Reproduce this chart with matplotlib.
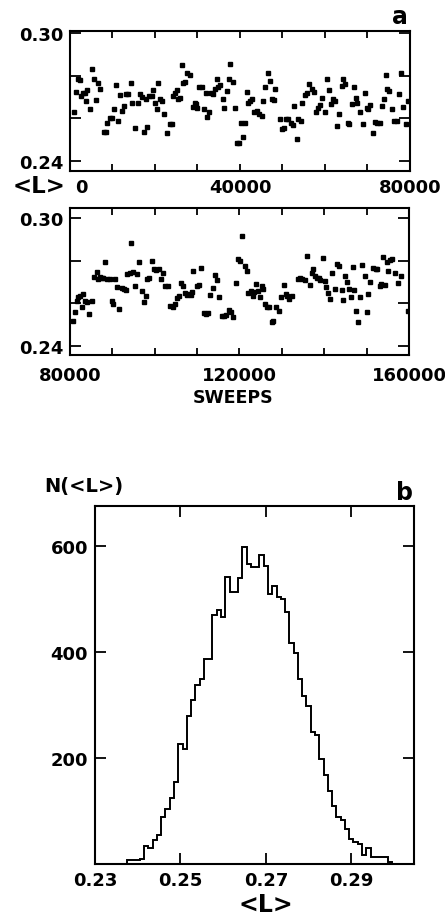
import numpy as np
import matplotlib
matplotlib.use("Agg")
import matplotlib.pyplot as plt
from matplotlib.transforms import ScaledTranslation

# panel a, top: sweeps 0 - 80000
sweeps_1 = [900, 1400, 2000, 2400, 2600, 3100, 3500, 3800, 4100, 4700, 5100, 5700, 6100, 6500, 7100,
            8100, 8500, 8800, 9400, 10000, 10400, 10800, 11400, 11800, 12300, 12700, 13200, 13700, 14300,
            14700, 15400, 15900, 16500, 16900, 17300, 17800, 18100, 18700, 19200, 19600, 20000, 20400,
            20700, 21200, 21700, 22200, 22900, 23500, 23900, 24200, 24600, 25100, 25500, 25900, 26300,
            26700, 27100, 27600, 28200, 28900, 29300, 29600, 30000, 30400, 31000, 31500, 32000, 32300,
            32800, 33100, 33700, 34100, 34500, 34900, 35300, 35900, 36200, 36900, 37300, 37600, 38300,
            38800, 39200, 39800, 40200, 40600, 41200, 41600, 42000, 42400, 42900, 43400, 43900, 44500,
            45100, 45500, 46000, 46500, 47100, 47500, 48000, 48300, 49300, 49800, 50400, 50800, 51400,
            51900, 52400, 52700, 53300, 53700, 54300, 54700, 55300, 55700, 56300, 56900, 57300, 57900,
            58400, 58800, 59400, 60000, 60400, 61000, 61300, 61800, 62400, 62900, 63400, 63900, 64300,
            64700, 65300, 65700, 66300, 66800, 67300, 67600, 68200, 68900, 69300, 69800, 70200, 70700,
            71400, 71800, 72300, 72900, 73300, 73900, 74400, 74700, 75100, 75700, 76300, 76900, 77300,
            77800, 78400, 79100, 79600]
L_1 = [0.2630, 0.2724, 0.2784, 0.2779, 0.2705, 0.2718, 0.2721, 0.2682, 0.2734, 0.2646, 0.2831, 0.2784,
       0.2687, 0.2768, 0.2740, 0.2536, 0.2536, 0.2580, 0.2600, 0.2604, 0.2643, 0.2756, 0.2588, 0.2710,
       0.2635, 0.2658, 0.2716, 0.2716, 0.2768, 0.2671, 0.2557, 0.2674, 0.2713, 0.2701, 0.2538, 0.2690,
       0.2561, 0.2705, 0.2705, 0.2734, 0.2674, 0.2643, 0.2768, 0.2693, 0.2682, 0.2619, 0.2533, 0.2572,
       0.2575, 0.2705, 0.2718, 0.2734, 0.2690, 0.2698, 0.2850, 0.2765, 0.2771, 0.2812, 0.2803, 0.2655,
       0.2674, 0.2666, 0.2651, 0.2745, 0.2748, 0.2643, 0.2721, 0.2608, 0.2630, 0.2721, 0.2713, 0.2737,
       0.2784, 0.2749, 0.2756, 0.2693, 0.2651, 0.2729, 0.2787, 0.2854, 0.2771, 0.2651, 0.2483, 0.2486,
       0.2577, 0.2514, 0.2577, 0.2724, 0.2671, 0.2682, 0.2690, 0.2630, 0.2635, 0.2622, 0.2611, 0.2682,
       0.2745, 0.2812, 0.2776, 0.2690, 0.2687, 0.2740, 0.2599, 0.2549, 0.2557, 0.2599, 0.2596, 0.2577,
       0.2568, 0.2658, 0.2505, 0.2596, 0.2588, 0.2674, 0.2709, 0.2718, 0.2760, 0.2740, 0.2724, 0.2630,
       0.2651, 0.2662, 0.2698, 0.2630, 0.2784, 0.2734, 0.2666, 0.2690, 0.2682, 0.2564, 0.2619, 0.2752,
       0.2784, 0.2760, 0.2577, 0.2572, 0.2666, 0.2749, 0.2698, 0.2674, 0.2630, 0.2572, 0.2718, 0.2651,
       0.2643, 0.2662, 0.2530, 0.2583, 0.2580, 0.2577, 0.2658, 0.2693, 0.2803, 0.2740, 0.2729, 0.2643,
       0.2588, 0.2588, 0.2713, 0.2812, 0.2655, 0.2572, 0.2682]

# panel a, bottom: sweeps 80000 - 160000
sweeps_2 = [80800, 81200, 81600, 82000, 82400, 82800, 83100, 83500, 84100, 84600, 85300, 85700, 86300,
            86700, 87100, 87500, 87900, 88300, 88800, 89400, 89800, 90200, 90600, 91200, 91600, 92200,
            92700, 93200, 93500, 94100, 94500, 94900, 95300, 95900, 96300, 96900, 97400, 97900, 98200,
            98700, 99300, 99800, 100400, 101000, 101400, 101900, 102400, 103200, 103700, 104200, 104700,
            105200, 105700, 106300, 106700, 107100, 107700, 108100, 108500, 108900, 109100, 109900,
            110500, 111000, 111600, 112100, 112600, 113000, 113800, 114200, 114600, 115100, 115800,
            116300, 116900, 117600, 118000, 118500, 119100, 119700, 120100, 120700, 121300, 121700,
            122100, 122600, 123100, 123500, 124000, 124400, 124800, 125200, 125600, 126100, 126500,
            127000, 127600, 127900, 128600, 129400, 129900, 130500, 130900, 131200, 131700, 132300,
            133800, 134200, 134800, 135400, 136000, 136600, 137200, 137400, 137800, 138300, 138800,
            139100, 139700, 140100, 140500, 140900, 141300, 141900, 142500, 143000, 143500, 144100,
            144500, 144800, 145400, 145900, 146200, 146700, 147000, 147400, 148000, 148500, 149000,
            149600, 150000, 150300, 150900, 151500, 152200, 152500, 153100, 153500, 153900, 154300,
            154700, 155100, 155500, 156100, 156600, 157400, 158200, 159800]
L_2 = [0.2519, 0.2558, 0.2612, 0.2628, 0.2636, 0.2581, 0.2644, 0.2612, 0.2605, 0.2550, 0.2612, 0.2722,
       0.2748, 0.2714, 0.2722, 0.2719, 0.2719, 0.2795, 0.2714, 0.2714, 0.2612, 0.2597, 0.2714, 0.2675,
       0.2573, 0.2670, 0.2667, 0.2662, 0.2737, 0.2742, 0.2883, 0.2745, 0.2683, 0.2737, 0.2795, 0.2659,
       0.2605, 0.2636, 0.2714, 0.2719, 0.2800, 0.2761, 0.2758, 0.2761, 0.2714, 0.2742, 0.2680, 0.2680,
       0.2589, 0.2581, 0.2597, 0.2623, 0.2633, 0.2695, 0.2680, 0.2651, 0.2641, 0.2644, 0.2641, 0.2655,
       0.2750, 0.2683, 0.2686, 0.2764, 0.2555, 0.2550, 0.2555, 0.2639, 0.2670, 0.2734, 0.2711, 0.2628,
       0.2539, 0.2539, 0.2545, 0.2570, 0.2558, 0.2534, 0.2695, 0.2808, 0.2800, 0.2914, 0.2773, 0.2753,
       0.2651, 0.2659, 0.2633, 0.2655, 0.2691, 0.2659, 0.2628, 0.2683, 0.2667, 0.2597, 0.2581, 0.2581,
       0.2514, 0.2519, 0.2581, 0.2565, 0.2628, 0.2686, 0.2644, 0.2636, 0.2620, 0.2633, 0.2714, 0.2717,
       0.2714, 0.2711, 0.2820, 0.2686, 0.2742, 0.2761, 0.2730, 0.2719, 0.2717, 0.2711, 0.2811, 0.2706,
       0.2675, 0.2651, 0.2620, 0.2742, 0.2667, 0.2784, 0.2773, 0.2664, 0.2617, 0.2730, 0.2698, 0.2667,
       0.2628, 0.2769, 0.2664, 0.2565, 0.2514, 0.2628, 0.2780, 0.2730, 0.2561, 0.2644, 0.2701, 0.2764,
       0.2761, 0.2761, 0.2680, 0.2691, 0.2816, 0.2686, 0.2795, 0.2753, 0.2805, 0.2808, 0.2742, 0.2695,
       0.2730, 0.2565]

# panel b: histogram N(<L>), bins of width 0.001
bin_start = 0.2375
bin_width = 0.001
counts = [8, 8, 8, 10, 34, 31, 46, 54, 88, 103, 125, 154, 226, 217, 279, 310, 338, 348, 387, 387,
          469, 478, 466, 541, 512, 512, 540, 597, 565, 560, 560, 583, 562, 509, 525, 503, 500, 476,
          416, 398, 349, 317, 298, 249, 243, 198, 167, 137, 110, 88, 82, 66, 48, 41, 38, 16, 30,
          13, 13, 13, 14, 3]
edges = bin_start + bin_width * np.arange(len(counts) + 1)

plt.rcParams['font.family'] = ['DejaVu Sans']
plt.rcParams['font.weight'] = 'bold'
plt.rcParams['axes.linewidth'] = 1.5

fig = plt.figure(figsize=(4.45, 9.2), dpi=100)
ax1 = fig.add_axes([0.1573, 0.8130, 0.7640, 0.1522])
ax2 = fig.add_axes([0.1573, 0.6130, 0.7618, 0.1598])
ax3 = fig.add_axes([0.2135, 0.0598, 0.7170, 0.3891])


def style_time_axis(ax, xs, ys, x0, x1, xlabels, ylo, yhi):
    ax.plot(xs, ys, ls='none', marker='s', ms=2.2, color='black')
    ax.set_xlim(x0, x1)
    ax.set_ylim(ylo, yhi)
    ax.set_xticks(np.arange(x0, x1 + 1, 10000))
    lab = [''] * 9
    lab[0], lab[4], lab[8] = xlabels
    ax.set_xticklabels(lab)
    ax.set_yticks([0.24, 0.26, 0.28, 0.30])
    ax.set_yticklabels(['0.24', '', '', '0.30'])
    ax.tick_params(axis='x', direction='in', top=True, length=5, width=1.3,
                   labelsize=13, pad=5)
    ax.tick_params(axis='y', direction='in', right=True, length=8, width=1.3,
                   labelsize=13, pad=5)


style_time_axis(ax1, sweeps_1, L_1, 0, 80000, ['0', '40000', '80000'], 0.2353, 0.301)
zero_lbl = ax1.get_xticklabels()[0]
zero_lbl.set_horizontalalignment('left')
zero_lbl.set_transform(zero_lbl.get_transform() + ScaledTranslation(4 / 72, 0, fig.dpi_scale_trans))
style_time_axis(ax2, sweeps_2, L_2, 80000, 160000, ['80000', '120000', '160000'], 0.2358, 0.3047)
ax2.tick_params(axis='x', pad=8)

ax3.stairs(counts, edges, color='black', lw=1.4)
ax3.set_xlim(0.23, 0.3047)
ax3.set_ylim(0, 675)
ax3.set_xticks([0.23, 0.25, 0.27, 0.29])
ax3.set_xticklabels(['0.23', '0.25', '0.27', '0.29'])
ax3.set_yticks([200, 400, 600])
ax3.tick_params(axis='both', direction='in', top=True, right=True, length=8,
                width=1.3, labelsize=13, pad=5)

fig.text(0.899, 0.9815, 'a', fontsize=17, fontweight='bold', ha='center', va='center')
fig.text(0.910, 0.464, 'b', fontsize=17, fontweight='bold', ha='center', va='center')
fig.text(0.088, 0.797, '<L>', fontsize=16.5, fontweight='bold', ha='center', va='center')
fig.text(0.524, 0.5674, 'SWEEPS', fontsize=12.5, fontweight='bold', ha='center', va='center')
fig.text(0.189, 0.4717, 'N(<L>)', fontsize=14, fontweight='bold', ha='center', va='center')
fig.text(0.598, 0.0163, '<L>', fontsize=17, fontweight='bold', ha='center', va='center')

fig.savefig('out.png', dpi=100)
